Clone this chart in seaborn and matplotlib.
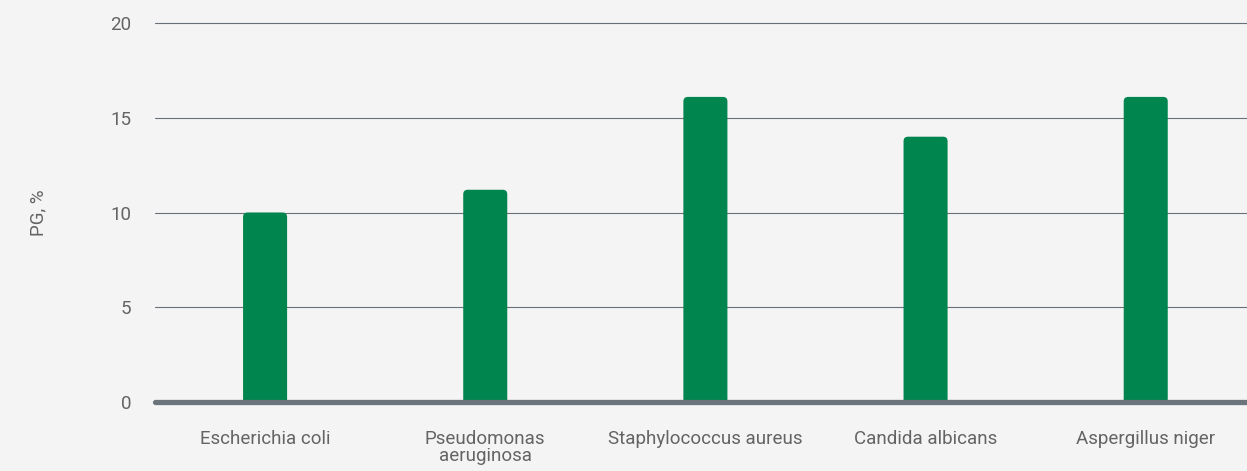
import matplotlib
matplotlib.use("Agg")
import matplotlib.pyplot as plt
from matplotlib.patches import FancyBboxPatch
import seaborn as sns
import pandas as pd

categories = ["Escherichia coli", "Pseudomonas\naeruginosa", "Staphylococcus aureus",
              "Candida albicans", "Aspergillus niger"]
values = [10.0, 11.2, 16.1, 14.0, 16.1]
yticks = [0, 5, 10, 15, 20]
ylabel = "PG, %"

BG = "#f4f4f4"
BAR = "#00854f"
GRID = "#68707a"
TEXT = "#646464"

sns.set_theme(style="white")
plt.rcParams["font.family"] = ["Roboto", "DejaVu Sans"]

df = pd.DataFrame({"cat": categories, "val": values})

W, H, DPI = 1247, 471, 100
fig = plt.figure(figsize=(W / DPI, H / DPI), dpi=DPI, facecolor=BG)
left_px, right_px, top_px, bot_px = 155, 1247, 23, 402
ax = fig.add_axes([left_px / W, 1 - bot_px / H, (right_px - left_px) / W, (bot_px - top_px) / H])
ax.set_facecolor(BG)

sns.barplot(data=df, x="cat", y="val", color=BAR, width=0.2, saturation=1, ax=ax)

xlim = (-0.5, 4.46)
ylim = (0, 20)
ax.set_xlim(*xlim)
ax.set_ylim(*ylim)

# rounded tops
ax_w_px = right_px - left_px
ax_h_px = bot_px - top_px
px_per_x = ax_w_px / (xlim[1] - xlim[0])
px_per_y = ax_h_px / (ylim[1] - ylim[0])
aspect = px_per_x / px_per_y
r_px = 4.5
r = r_px / px_per_x
for p in list(ax.patches):
    x0, w, h = p.get_x(), p.get_width(), p.get_height()
    p.remove()
    fb = FancyBboxPatch((x0, -1), w, h + 1,
                        boxstyle=f"round,pad=0,rounding_size={r}",
                        mutation_aspect=aspect, facecolor=BAR, edgecolor="none",
                        zorder=2, clip_on=True)
    ax.add_patch(fb)

ax.set_yticks(yticks)
ax.set_yticklabels([str(t) for t in yticks])
for t in [5, 10, 15, 20]:
    ax.axhline(t, color=GRID, lw=0.8, zorder=1, clip_on=False)
ax.axhline(0, color="#6b747a", lw=3.8, zorder=3, clip_on=False, solid_capstyle="round")

for s in ax.spines.values():
    s.set_visible(False)
ax.tick_params(axis="both", length=0, labelsize=13.5, colors=TEXT)
ax.tick_params(axis="y", pad=17)
ax.tick_params(axis="x", pad=20)
for lab in ax.get_xticklabels() + ax.get_yticklabels():
    lab.set_fontweight("normal")
    lab.set_color(TEXT)
for lab in ax.get_xticklabels():
    lab.set_linespacing(0.95)

ax.set_xlabel("")
ax.set_ylabel(ylabel, fontsize=13.5, color=TEXT, fontweight="normal")
ax.yaxis.set_label_coords((47 - left_px) / ax_w_px, 0.5)

fig.savefig("out.png", dpi=DPI, facecolor=BG)
